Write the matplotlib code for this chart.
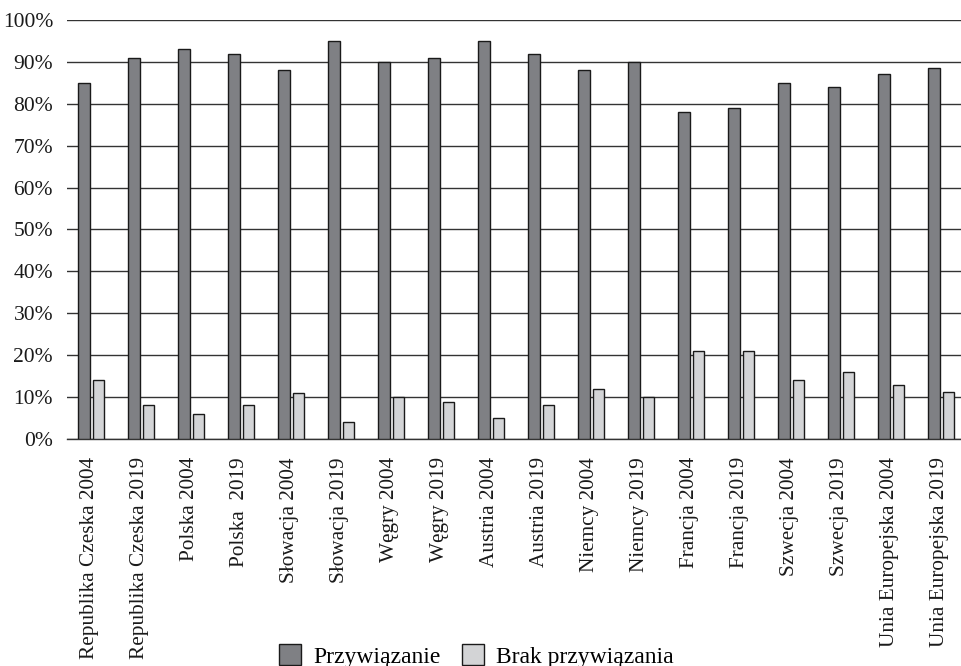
import matplotlib
matplotlib.use("Agg")
import matplotlib.pyplot as plt
import numpy as np
from matplotlib.ticker import FuncFormatter

categories = ["Republika Czeska 2004", "Republika Czeska 2019", "Polska 2004", "Polska  2019",
              "Słowacja 2004", "Słowacja 2019", "Węgry 2004", "Węgry 2019",
              "Austria 2004", "Austria 2019", "Niemcy 2004", "Niemcy 2019",
              "Francja 2004", "Francja 2019", "Szwecja 2004", "Szwecja 2019",
              "Unia Europejska 2004", "Unia Europejska 2019"]
przywiazanie = [85, 91, 93, 92, 88, 95, 90, 91, 95, 92, 88, 90, 78, 79, 85, 84, 87, 88.5]
brak = [14, 8, 6, 8, 11, 4, 10, 8.8, 5, 8, 12, 10, 21, 21, 14, 16, 13, 11.2]
series_names = ["Przywiązanie", "Brak przywiązania"]

plt.rcParams['font.family'] = ['Liberation Serif', 'DejaVu Serif']

fig = plt.figure(figsize=(9.61, 6.66), dpi=100)
ax = fig.add_axes([67/961, 227/666, 900/961, 419/666])

x = np.arange(len(categories))
w = 0.235
ax.bar(x - 0.16, przywiazanie, width=w, color="#7f8084", edgecolor="#1a1a1a", linewidth=1.0,
       label=series_names[0], zorder=3)
ax.bar(x + 0.13, brak, width=w, color="#d3d4d6", edgecolor="#1a1a1a", linewidth=1.0,
       label=series_names[1], zorder=3)

ax.set_xlim(-0.5, len(categories) - 0.5)
ax.set_ylim(0, 100)
ax.set_yticks(np.arange(0, 101, 10))
ax.yaxis.set_major_formatter(FuncFormatter(lambda v, p: f"{int(v)}%"))
ax.grid(axis='y', color="#333333", linewidth=1.0, zorder=0)
ax.set_axisbelow(True)
for s in ["top", "right", "left"]:
    ax.spines[s].set_visible(False)
ax.spines["bottom"].set_color("#333333")
ax.spines["bottom"].set_linewidth(1.0)
ax.tick_params(axis='both', length=0, colors="#1a1a1a")
ax.tick_params(axis='y', pad=10, labelsize=15.5)
ax.tick_params(axis='x', pad=13, labelsize=15.3)
ax.set_xticks(x - 0.05)
ax.set_xticklabels(categories, rotation=90, ha='center', va='top')

fig.legend(loc='center', bbox_to_anchor=(476/961, 1 - 656/666), ncol=2, frameon=False,
           fontsize=17, handlelength=0.95, handleheight=0.95, handletextpad=0.5,
           columnspacing=0.9, borderaxespad=0)

fig.savefig("out.png", dpi=100)
